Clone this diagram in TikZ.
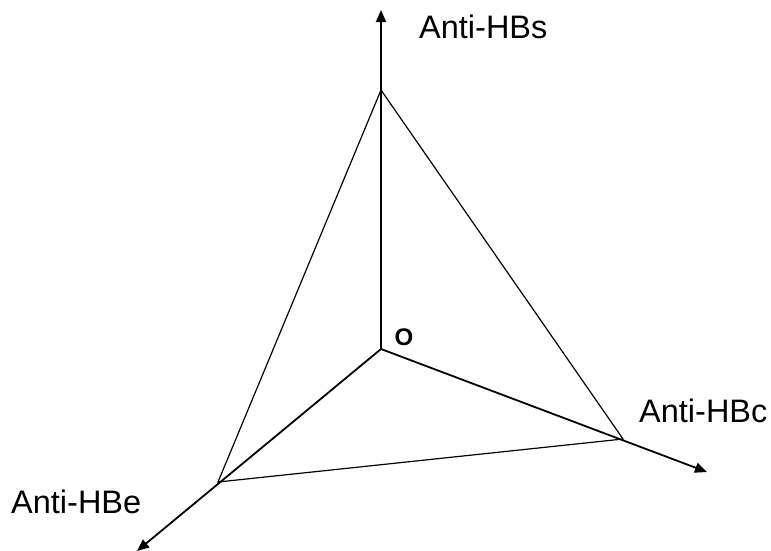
\documentclass[tikz,border=0pt]{standalone}
\usepackage{fontspec}
\setmainfont{Liberation Sans}
\usetikzlibrary{arrows.meta}
\begin{document}
\begin{tikzpicture}[x=1pt,y=-1pt,
  axis/.style={line width=1.8pt,-{Triangle[length=12pt,width=10pt]}},
  edge/.style={line width=1.2pt,line join=miter},
  lbl/.style={font=\fontsize{32.5}{38}\selectfont,inner sep=0pt,anchor=base west},
  olbl/.style={font=\fontsize{24}{28}\selectfont\bfseries,inner sep=0pt}]
\useasboundingbox (0,0) rectangle (771,550);
\coordinate (O) at (381,349);
\coordinate (S) at (381,90);
\coordinate (C) at (623,439);
\coordinate (E) at (218,482);
\coordinate (St) at (381,10);
\coordinate (Ct) at (707,472);
\coordinate (Et) at (137,551);
\draw[axis] (O) -- (St);
\draw[axis] (O) -- (Ct);
\draw[axis] (O) -- (Et);
\draw[edge] (S) -- (C) -- (E) -- cycle;
\node[lbl] (ls) at (419,38) {Anti-HBs};
\node[lbl] (lc) at (639,422) {Anti-HBc};
\node[lbl] (le) at (11,513) {Anti-HBe};
\node[olbl] (lo) at (404,337) {O};
\end{tikzpicture}
\end{document}
